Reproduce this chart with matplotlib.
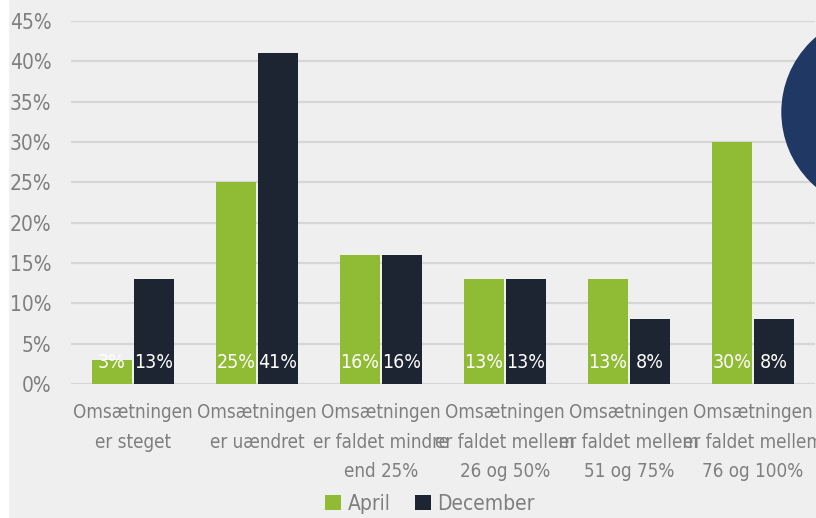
import matplotlib.pyplot as plt
import matplotlib.patches as mpatches
import numpy as np

categories = [
    "Omsætningen\ner steget",
    "Omsætningen\ner uændret",
    "Omsætningen\ner faldet mindre\nend 25%",
    "Omsætningen\ner faldet mellem\n26 og 50%",
    "Omsætningen\ner faldet mellem\n51 og 75%",
    "Omsætningen\ner faldet mellem\n76 og 100%",
]
april = [3, 25, 16, 13, 13, 30]
december = [13, 41, 16, 13, 8, 8]
yticks = [0, 5, 10, 15, 20, 25, 30, 35, 40, 45]

GREEN = "#8fbb35"
NAVY = "#1d2532"
GRAY = "#7f7f7f"
BG = "#efefef"

plt.rcParams["font.family"] = ["DejaVu Sans"]
plt.rcParams["font.stretch"] = "condensed"

fig = plt.figure(figsize=(8.16, 5.18), dpi=100, facecolor=BG)
W, H = 816, 518
ax = fig.add_axes([71 / W, (H - 384) / H, (815 - 71) / W, (384 - 21) / H])
ax.set_facecolor("none")

x = np.arange(len(categories))
bw = 40 / 124
gap = 1 / 124
b1 = ax.bar(x - bw / 2 - gap, april, bw, color=GREEN, zorder=3, label="April")
b2 = ax.bar(x + bw / 2 + gap, december, bw, color=NAVY, zorder=3, label="December")

# value labels at the bottom of the bars, clipped to the bar
for bars, vals in ((b1, april), (b2, december)):
    for rect, v in zip(bars, vals):
        t = ax.text(rect.get_x() + rect.get_width() / 2, 1.5, f"{v}%",
                    ha="center", va="bottom", color="white", fontsize=14, zorder=4)
        t.set_clip_path(rect)

ax.set_xlim(-0.5, len(categories) - 0.5)
ax.set_ylim(0, 45)
ax.set_yticks(yticks)
ax.set_yticklabels([f"{v}%" for v in yticks])
ax.set_xticks(x)
ax.set_xticklabels(categories, linespacing=1.7)
ax.tick_params(axis="both", length=0, colors=GRAY, labelsize=15)
ax.tick_params(axis="x", labelsize=13.5, pad=14)
ax.tick_params(axis="y", pad=14)
ax.yaxis.grid(True, color="#d6d6d6", linewidth=1.6, zorder=0)
ax.set_axisbelow(True)
for s in ax.spines.values():
    s.set_visible(False)

leg = fig.legend(handles=[b1, b2], labels=["April", "December"], loc="center",
                 bbox_to_anchor=(430 / W, (H - 504) / H), ncol=2, frameon=False,
                 fontsize=15, handlelength=0.75, handleheight=0.75,
                 handletextpad=0.3, columnspacing=1.2, labelcolor=GRAY)

# decorative circle cropped at the top right
fig.patches.append(mpatches.Ellipse((880 / W, (H - 112) / H), 196 / W, 196 / H,
                                    transform=fig.transFigure, color="#1f3864",
                                    zorder=5))
# white strip at the left edge
fig.patches.append(mpatches.Rectangle((0, 0), 8 / W, 1, transform=fig.transFigure,
                                      color="white", zorder=5))

fig.savefig("out.png", dpi=100, facecolor=BG)
